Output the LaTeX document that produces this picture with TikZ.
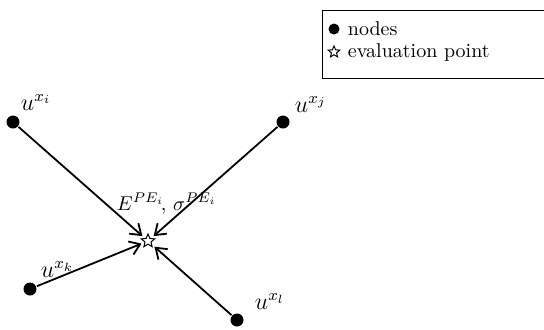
\documentclass[tikz,border=0pt]{standalone}
\usepackage{amssymb,amsmath}
\usetikzlibrary{arrows.meta,shapes.geometric}

\begin{document}
\begin{tikzpicture}[
x=0.5pt, y=-0.5pt, % one unit = one pixel of the 544x329 frame
>={Straight Barb[length=5pt,width=7pt]},
line width=0.9pt,
dot/.style={circle, fill=black, draw=none, minimum size=6.5pt, inner sep=0pt},
evalpt/.style={star, star points=5, star point ratio=2.2, draw, line width=0.5pt, minimum size=7pt, inner sep=0pt},
lbl/.style={inner sep=1pt, font=\large}
]
\useasboundingbox (0,0) rectangle (544,329);

% ================= Nodes (support points) =================

\node[dot] (Xi) at (13, 122) {};
\node[dot] (Xj) at (283, 122) {};
\node[dot] (Xk) at (30, 289) {};
\node[dot] (Xl) at (237, 320) {};

% Evaluation point (centre)
\node[evalpt] (P) at (148, 241) {};

% ================= Labels =================

\node[lbl, anchor=south west] (Li) at (18, 113) {$u^{x_i}$};
\node[lbl, anchor=south west] (Lj) at (292, 115) {$u^{x_j}$};
\node[lbl, anchor=south west] (Lk) at (38, 280) {$u^{x_k}$};
\node[lbl, anchor=south west] (Ll) at (252, 312) {$u^{x_l}$};
\node[lbl, anchor=south west, font=\normalsize] (Lp) at (114, 217) {$E^{PE_i}\!,\,\sigma^{PE_i}$};

% ================= Edges (towards the evaluation point) =================

\draw[->, shorten >=1.5pt] (Xi) -- (P);
\draw[->, shorten >=1.5pt] (Xj) -- (P);
\draw[->, shorten >=1.5pt] (Xk) -- (P);
\draw[->, shorten >=1.5pt] (Xl) -- (P);

% ================= Legend =================

% box runs off the right edge of the frame
\begin{scope}
\clip (0,0) rectangle (544,329);
\draw[line width=0.5pt] (322, 10) -- (600, 10) (322, 10) -- (322, 78) -- (600, 78);
\end{scope}
\node[dot, minimum size=5.5pt] (Ldot) at (334, 29) {};
\node[evalpt, minimum size=6pt] (Lstar) at (334, 52) {};
\node[lbl, anchor=west, font=\normalsize] (Lnodes) at (345, 29) {nodes};
\node[lbl, anchor=west, font=\normalsize] (Leval) at (345, 52) {evaluation point};

\end{tikzpicture}
\end{document}
